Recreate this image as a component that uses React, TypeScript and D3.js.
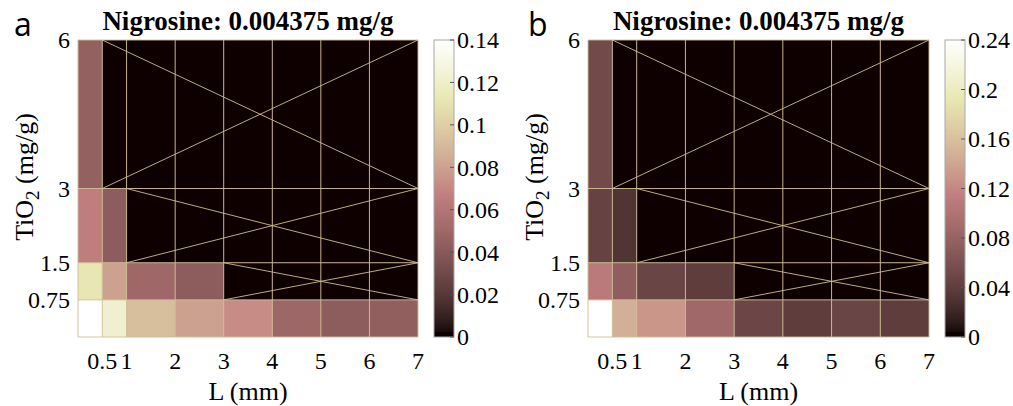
import React from 'react';
import * as d3 from 'd3';

// cell edges and ticks
const xEdges = [0, 0.5, 1, 2, 3, 4, 5, 6, 7];
const yEdges = [0, 0.75, 1.5, 3, 6];
const xTicks = [0.5, 1, 2, 3, 4, 5, 6, 7];
const yTicks = [0.75, 1.5, 3, 6];

// values, one row per TiO2 band (bottom to top), one entry per L band
const valuesA = [
    [0.14, 0.122, 0.092, 0.08, 0.072, 0.049, 0.042, 0.044],
    [0.112, 0.08, 0.05, 0.042, 0, 0, 0, 0],
    [0.066, 0.042, 0, 0, 0, 0, 0, 0],
    [0.045, 0, 0, 0, 0, 0, 0, 0],
];
const valuesB = [
    [0.24, 0.147, 0.13, 0.086, 0.049, 0.04, 0.047, 0.039],
    [0.108, 0.074, 0.047, 0.039, 0, 0, 0, 0],
    [0.045, 0.032, 0, 0, 0, 0, 0, 0],
    [0.052, 0, 0, 0, 0, 0, 0, 0],
];
const cbTicksA = [0, 0.02, 0.04, 0.06, 0.08, 0.1, 0.12, 0.14];
const cbTicksB = [0, 0.04, 0.08, 0.12, 0.16, 0.2, 0.24];

const TITLE = 'Nigrosine: 0.004375 mg/g';
const SERIF = '"Liberation Serif", "Times New Roman", serif';
const LINE = '#cfbc92';
const GAMMA = 1.35;

// matlab pink(256), read with a bit of compression toward the top
function pink(v: number, vmax: number) {
    const m = 256, n = 96;
    let k = Math.floor(Math.pow(Math.max(0, v / vmax), GAMMA) * m);
    k = Math.max(0, Math.min(m - 1, k));
    const i = k + 1;
    const rh = i <= n ? i / n : 1;
    const gh = i <= n ? 0 : i <= 2 * n ? (i - n) / n : 1;
    const bh = i <= 2 * n ? 0 : (i - 2 * n) / (m - 2 * n);
    const g = (i - 1) / (m - 1);
    const c = (h: number) => Math.round(255 * Math.sqrt((2 * g + h) / 3));
    return `rgb(${c(rh)},${c(gh)},${c(bh)})`;
}

const Panel = ({left, right, letter, letterX, values, cbTicks, id}: any) => {
    const top = 40, bottom = 337;
    const vmax = cbTicks[cbTicks.length - 1];
    const x = d3.scaleLinear().domain([0, 7]).range([left, right]);
    const y = d3.scaleLinear().domain([0, 6]).range([bottom, top]);
    const cbX = right + 16, cbW = 20;
    const cb = d3.scaleLinear().domain([0, vmax]).range([bottom, top]);

    // empty (zero) stretch of each row gets a cross
    const crosses = values.map((row: number[], r: number) => {
        const c0 = row.findIndex((v) => v === 0);
        return c0 < 0 ? null : {x0: xEdges[c0], x1: xEdges[xEdges.length - 1], y0: yEdges[r], y1: yEdges[r + 1]};
    }).filter(Boolean);

    const stops = d3.range(0, 257).map((i) => ({o: i / 256, c: pink((i / 256) * vmax * 0.9999, vmax)}));

    return (
        <g>
            <defs>
                <linearGradient id={id} x1="0" y1="1" x2="0" y2="0">
                    {stops.map((s, i) => <stop key={i} offset={s.o} stopColor={s.c}/>)}
                </linearGradient>
            </defs>
            <text x={letterX} y={36} fontFamily='"Open Sans", sans-serif' fontSize={32}>{letter}</text>
            <text x={(left + right) / 2} y={30} textAnchor="middle" fontFamily={SERIF} fontWeight="bold" fontSize={27}>{TITLE}</text>

            {values.map((row: number[], r: number) => row.map((v, c) => (
                <rect key={r + '-' + c} x={x(xEdges[c])} y={y(yEdges[r + 1])}
                      width={x(xEdges[c + 1]) - x(xEdges[c])} height={y(yEdges[r]) - y(yEdges[r + 1])}
                      fill={pink(v, vmax)}/>
            )))}

            {xEdges.map((e) => <line key={'vx' + e} x1={x(e)} x2={x(e)} y1={top} y2={bottom} stroke={LINE} strokeWidth={0.9}/>)}
            {yEdges.map((e) => <line key={'hy' + e} x1={left} x2={right} y1={y(e)} y2={y(e)} stroke={LINE} strokeWidth={0.9}/>)}
            {crosses.map((k: any, i: number) => (
                <g key={'x' + i}>
                    <line x1={x(k.x0)} y1={y(k.y1)} x2={x(k.x1)} y2={y(k.y0)} stroke={LINE} strokeWidth={0.9}/>
                    <line x1={x(k.x0)} y1={y(k.y0)} x2={x(k.x1)} y2={y(k.y1)} stroke={LINE} strokeWidth={0.9}/>
                </g>
            ))}

            {xTicks.map((t) => (
                <text key={'xt' + t} x={x(t)} y={369} textAnchor="middle" fontFamily={SERIF} fontSize={24}>{t}</text>
            ))}
            {yTicks.map((t) => (
                <text key={'yt' + t} x={left - 8} y={y(t)} dy="0.35em" textAnchor="end" fontFamily={SERIF} fontSize={24}>{t}</text>
            ))}
            <text x={(left + right) / 2} y={400} textAnchor="middle" fontFamily={SERIF} fontSize={26}>L (mm)</text>
            <text transform={`translate(${left - 45},177) rotate(-90)`} textAnchor="middle" fontFamily={SERIF} fontSize={26}>
                TiO<tspan dy={6} fontSize={19}>2</tspan><tspan dy={-6}> (mg/g)</tspan>
            </text>

            <rect x={cbX} y={top} width={cbW} height={bottom - top} fill={`url(#${id})`} stroke="#a8a8a8" strokeWidth={1}/>
            {cbTicks.map((t: number) => (
                <g key={'cb' + t}>
                    <line x1={cbX + cbW - 4} x2={cbX + cbW} y1={cb(t)} y2={cb(t)} stroke="#555" strokeWidth={1}/>
                    <text x={cbX + cbW + 3} y={cb(t)} dy="0.35em" fontFamily={SERIF} fontSize={24}>{t}</text>
                </g>
            ))}
        </g>
    );
};

export default function App() {
    return (
        <svg width={1013} height={406} style={{position: 'absolute', left: 0, top: 0, background: '#fff'}}>
            <Panel id="cba" left={78} right={418} letter="a" letterX={14} values={valuesA} cbTicks={cbTicksA}/>
            <Panel id="cbb" left={588} right={929} letter="b" letterX={528} values={valuesB} cbTicks={cbTicksB}/>
        </svg>
    );
}
